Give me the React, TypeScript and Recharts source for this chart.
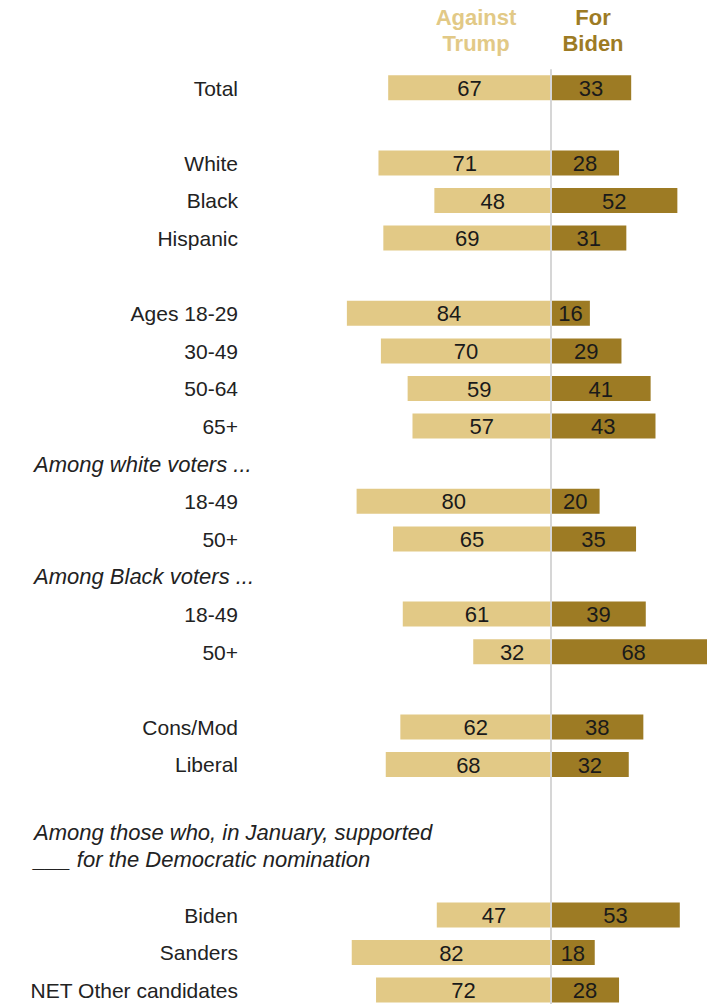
import React from "react";
import { BarChart, Bar, XAxis, YAxis, ReferenceLine, LabelList } from "recharts";

const labels = [
  "Total", "", "White", "Black", "Hispanic", "",
  "Ages 18-29", "30-49", "50-64", "65+",
  "Among white voters ...", "18-49", "50+",
  "Among Black voters ...", "18-49", "50+", "",
  "Cons/Mod", "Liberal", "",
  "Among those who, in January, supported|___ for the Democratic nomination", "",
  "Biden", "Sanders", "NET Other candidates",
];
const against = [67, null, 71, 48, 69, null, 84, 70, 59, 57, null, 80, 65, null, 61, 32, null, 62, 68, null, null, null, 47, 82, 72];
const forBiden = [33, null, 28, 52, 31, null, 16, 29, 41, 43, null, 20, 35, null, 39, 68, null, 38, 32, null, null, null, 53, 18, 28];

const LIGHT = "#e2c986";
const DARK = "#9d7b24";
const FONT = "'Liberation Sans', Arial, sans-serif";

// layout: zero line at x=551, ~2.43px per point
const CENTER = 551;
const PX = 2.43;
const PLOT_L = 250;
const PLOT_R = 760;

const data = labels.map((l, i) => ({
  key: "r" + i,
  label: l,
  againstNeg: against[i] == null ? null : -(against[i] as number),
  biden: forBiden[i],
}));

const LabelTick = (props: any) => {
  const { x, y, payload } = props;
  const label = labels[payload.index] || "";
  if (!label) return null;
  if (label.startsWith("Among")) {
    const lines = label.split("|");
    return (
      <text x={34} y={y} fontFamily={FONT} fontSize={22} fontStyle="italic" fill="#222">
        {lines.map((ln, k) => (
          <tspan key={k} x={34} dy={k === 0 ? (lines.length > 1 ? 0 : 7.5) : 27}>{ln}</tspan>
        ))}
      </text>
    );
  }
  return (
    <text x={x} y={y} dy={7.5} textAnchor="end" fontFamily={FONT} fontSize={21} fill="#222">
      {label}
    </text>
  );
};

const ValueLabel = (props: any) => {
  const { x, y, width, height, value } = props;
  if (value == null) return null;
  return (
    <text
      x={x + width / 2}
      y={y + height / 2}
      dy={8}
      textAnchor="middle"
      fontFamily={FONT}
      fontSize={22}
      fill="#1a1a1a"
    >
      {Math.abs(value)}
    </text>
  );
};

const headStyle: React.CSSProperties = {
  position: "absolute",
  fontFamily: FONT,
  fontWeight: "bold",
  fontSize: 22,
  lineHeight: "26px",
  textAlign: "center",
  width: 140,
};

export default function App() {
  return (
    <div style={{ position: "absolute", left: 0, top: 0, width: 707, height: 1004, overflow: "hidden", background: "#fff" }}>
      <div style={{ ...headStyle, left: 476 - 70, top: 5, color: LIGHT }}>Against<br />Trump</div>
      <div style={{ ...headStyle, left: 593 - 70, top: 5, color: DARK }}>For<br />Biden</div>
      <BarChart
        width={PLOT_R}
        height={1010}
        data={data}
        layout="vertical"
        stackOffset="sign"
        barSize={25}
        margin={{ top: 69.2, right: 0, bottom: 0.8, left: 0 }}
      >
        <XAxis
          type="number"
          hide
          height={0}
          domain={[(PLOT_L - CENTER) / PX, (PLOT_R - CENTER) / PX]}
          allowDataOverflow
        />
        <YAxis
          type="category"
          dataKey="key"
          width={PLOT_L}
          axisLine={false}
          tickLine={false}
          tickSize={0}
          tickMargin={12}
          interval={0}
          tick={<LabelTick />}
        />
        <Bar dataKey="againstNeg" stackId="a" fill={LIGHT} isAnimationActive={false}>
          <LabelList dataKey="againstNeg" content={<ValueLabel />} />
        </Bar>
        <Bar dataKey="biden" stackId="a" fill={DARK} isAnimationActive={false}>
          <LabelList dataKey="biden" content={<ValueLabel />} />
        </Bar>
        <ReferenceLine x={0} stroke="#d6d6d6" strokeWidth={2} ifOverflow="extendDomain" />
      </BarChart>
    </div>
  );
}
